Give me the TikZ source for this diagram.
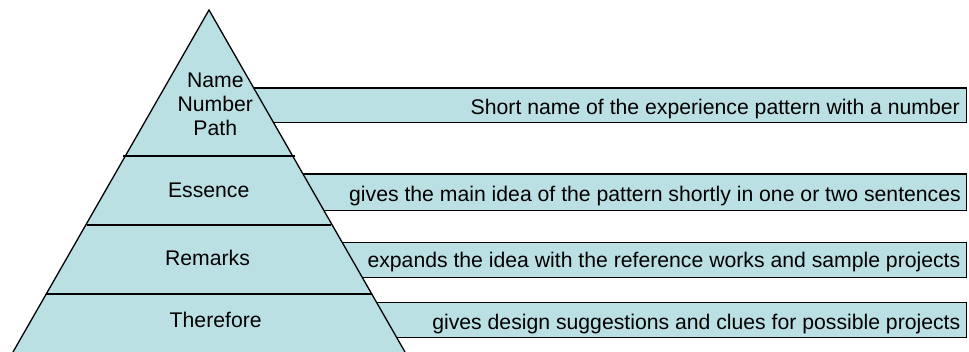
\documentclass[tikz,border=0pt]{standalone}
\usepackage{fontspec}
\setmainfont{Liberation Sans}
\definecolor{pyrfill}{RGB}{187,224,227}
\begin{document}
\begin{tikzpicture}[x=1pt,y=-1pt,
  edge/.style={draw=black,line width=1.3pt},
  divider/.style={draw=black,line width=1.5pt},
  lvl/.style={font=\fontsize{21.2}{24}\selectfont,align=center,inner sep=0pt,anchor=base},
  desc/.style={font=\fontsize{21.2}{24}\selectfont,anchor=base east,inner sep=0pt}]
\useasboundingbox (0,0) rectangle (969,352);
% triangle geometry: apex (209,10), base y=352 at x=13 and 405
% bands (drawn behind the triangle)
\foreach \t/\b in {88/122.5, 174/210.7, 242.5/277.3, 302.5/337.5}{
  \pgfmathsetmacro{\xt}{209+(\t-10)*0.5731}
  \pgfmathsetmacro{\xb}{209+(\b-10)*0.5731}
  \fill[pyrfill] (\xt,\t) -- (966.5,\t) -- (966.5,\b) -- (\xb,\b) -- cycle;
  \draw[divider] (\xt,\t) -- (966.5,\t) -- (966.5,\b) -- (\xb,\b);
}
% triangle
\coordinate (apex) at (209,10);
\coordinate (bl) at (13,352);
\coordinate (br) at (405,352);
\fill[pyrfill] (apex) -- (br) -- (bl) -- cycle;
\draw[edge] (bl) -- (apex) -- (br);
% dividers
\draw[divider] (123,156) -- (295,156);
\draw[divider] (87,225) -- (331,225);
\draw[divider] (46,294) -- (372,294);
% level labels
\node[lvl] (n1) at (215.3,136) {Name\\Number\\Path};
\node[lvl] (n2) at (208.7,197.3) {Essence};
\node[lvl] (n3) at (207.5,265.7) {Remarks};
\node[lvl] (n4) at (215.7,327.7) {Therefore};
% descriptions
\node[desc] (d1) at (960,114.3) {Short name of the experience pattern with a number};
\node[desc] (d2) at (961,201.7) {gives the main idea of the pattern shortly in one or two sentences};
\node[desc] (d3) at (960.5,268) {expands the idea with the reference works and sample projects};
\node[desc] (d4) at (960.5,330) {gives design suggestions and clues for possible projects};
\end{tikzpicture}
\end{document}
